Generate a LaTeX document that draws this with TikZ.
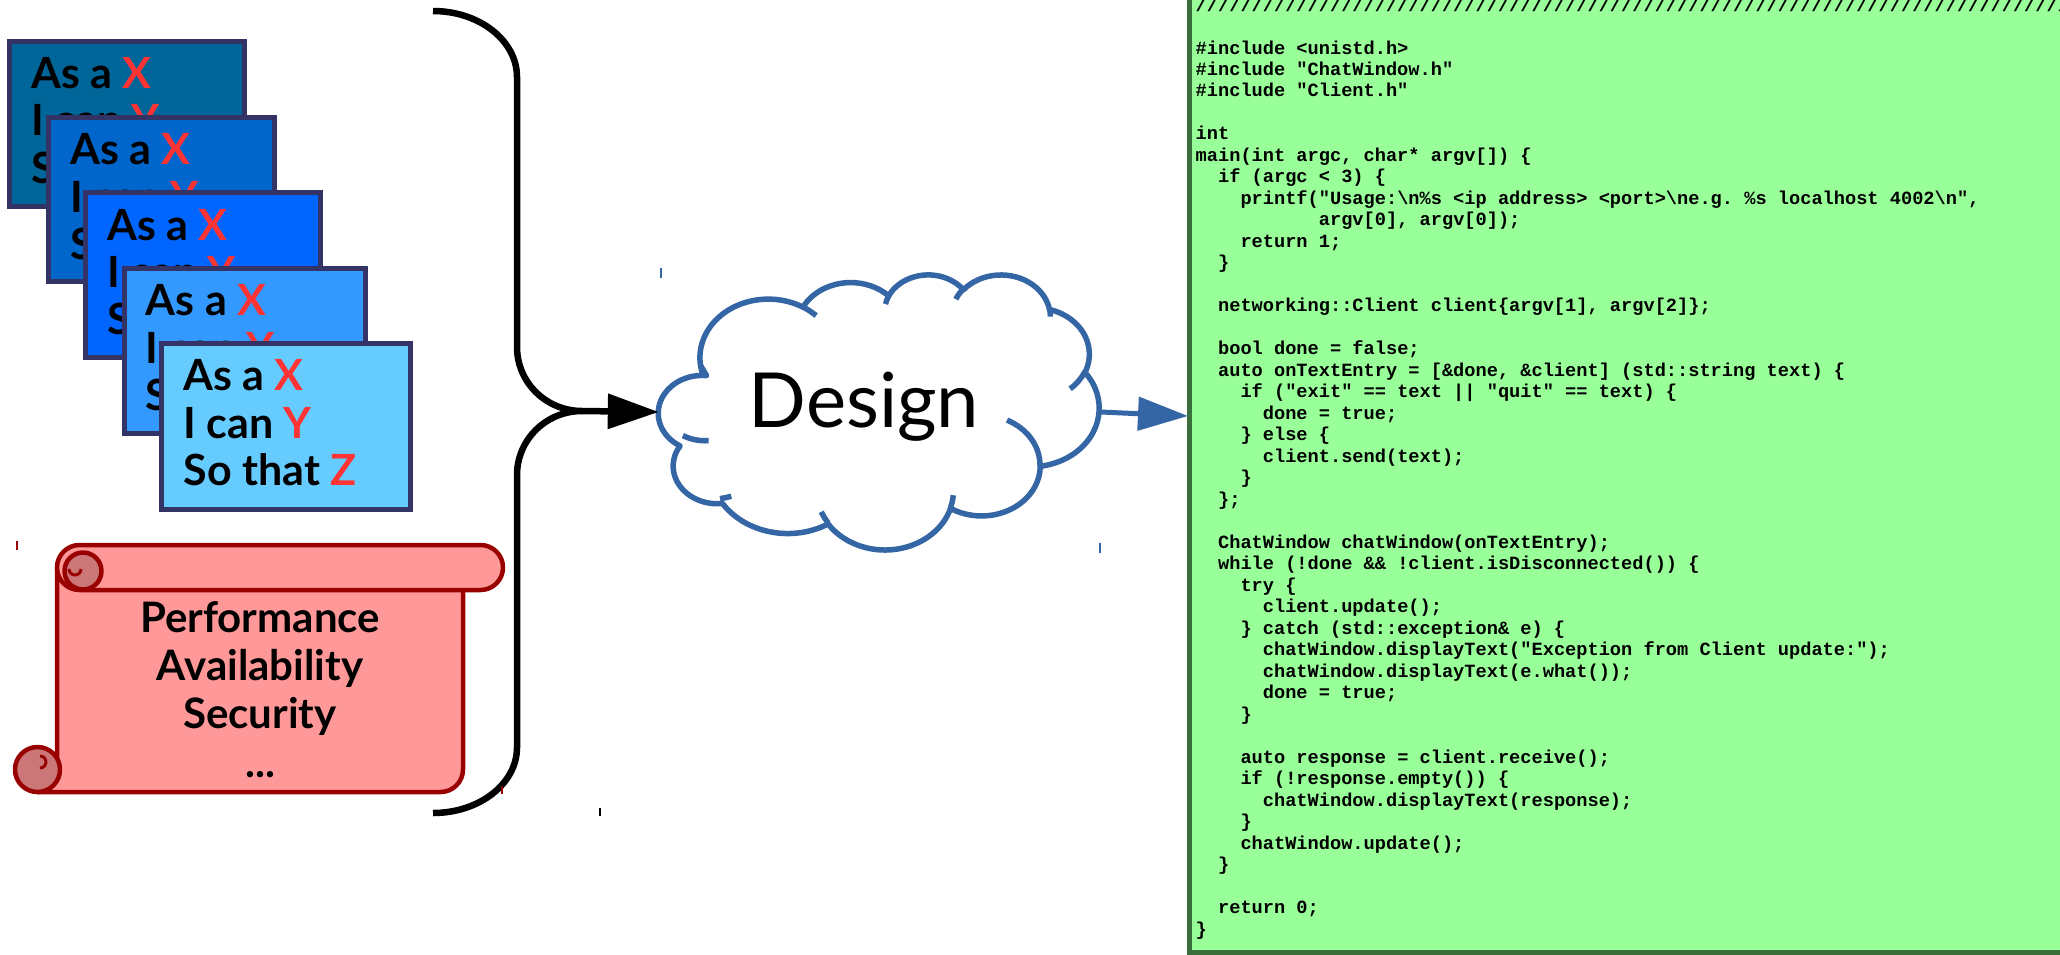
\documentclass[tikz,border=0pt]{standalone}
\usepackage{fontspec}
\setmonofont{Liberation Mono}
\newfontfamily\latofont{Lato}
\usetikzlibrary{arrows.meta}

\definecolor{storyedge}{HTML}{333366}
\definecolor{storyA}{HTML}{006699}
\definecolor{storyB}{HTML}{0066CC}
\definecolor{storyC}{HTML}{0066FF}
\definecolor{storyD}{HTML}{3399FF}
\definecolor{storyE}{HTML}{66CCFF}
\definecolor{storyred}{HTML}{FF3333}
\definecolor{scrollfill}{HTML}{FF9999}
\definecolor{scrolledge}{HTML}{990000}
\definecolor{scrollcurl}{HTML}{CC7777}
\definecolor{cloudblue}{HTML}{3465A4}
\definecolor{codefill}{HTML}{99FF99}
\definecolor{codeedge}{HTML}{3A6E3A}

% Converts a DrawingML-style arc (visual start angle, sweep) on an
% ellipse with radii #2,#3 into parametric start/end angles for TikZ.
\newcommand\cloudang[5]{%
  \pgfmathsetmacro\cldtmpa{atan2((#2)*sin(#4),(#3)*cos(#4))}%
  \pgfmathsetmacro\cldtmpe{(#4)+(#5)}%
  \pgfmathsetmacro\cldtmpb{atan2((#2)*sin(\cldtmpe),(#3)*cos(\cldtmpe))}%
  \pgfmathsetmacro\cldtmpd{\cldtmpb-\cldtmpa}%
  \pgfmathsetmacro\cldtmpd{\cldtmpd-360*round((\cldtmpd-(#5))/360)}%
  \pgfmathsetmacro\cldtmpb{\cldtmpa+\cldtmpd}%
  \expandafter\global\expandafter\let\csname cldS#1\endcsname\cldtmpa
  \expandafter\global\expandafter\let\csname cldE#1\endcsname\cldtmpb
}

% One user-story card: name, left, top, right, bottom, fill colour
\newcommand\storycard[6]{%
  \node[storybox, fill=#6, minimum width={#4-#2-5}, minimum height={#5-#3-5},
        anchor=north west] (#1) at ({#2+2.5},{#3+2.5}) {};
  \node[storytext] (#1-as)  at ({#2+24},{#3+50})    {As a \textcolor{storyred}{X}};
  \node[storytext] (#1-can) at ({#2+24},{#3+97.3})  {I can \textcolor{storyred}{Y}};
  \node[storytext] (#1-so)  at ({#2+24},{#3+144.6}) {So that \textcolor{storyred}{Z}};
}

% One line of source code: line index, indent (characters), text
\newcommand\codeline[3]{%
  \node[codetext] (code#1) at ({1195.5+#2*11.198},{54+#1*21.49}) {#3};
}

\begin{document}
\begin{tikzpicture}[x=1pt, y=-1pt,
  storybox/.style={draw=storyedge, line width=5pt, inner sep=0pt, outer sep=0pt},
  storytext/.style={anchor=base west, inner sep=0pt,
    font=\latofont\bfseries\fontsize{43}{47}\selectfont},
  scrollline/.style={draw=scrolledge, line width=4.5pt, line join=round},
  scrolltext/.style={anchor=base, inner sep=0pt,
    font=\latofont\bfseries\fontsize{42}{48}\selectfont},
  bracestyle/.style={draw=black, line width=6.5pt},
  blackarrow/.style={draw=black, line width=6.5pt, -{Triangle[length=51pt,width=34pt]}},
  cloudline/.style={draw=cloudblue, line width=5.5pt, line join=round},
  bluearrow/.style={draw=cloudblue, line width=5pt, -{Triangle[length=50pt,width=33pt]}},
  codetext/.style={anchor=base west, inner sep=0pt,
    font=\ttfamily\bfseries\fontsize{18.66}{21.49}\selectfont},
  marktick/.style={line width=1.5pt}]

\useasboundingbox (0,0) rectangle (2060,954);
\fill[white] (0,0) rectangle (2060,954);

% ---------- stack of user stories ----------
\storycard{storyA}{7.3}{38.6}{246.7}{209}{storyA}
\storycard{storyB}{46}{114.7}{276.7}{284.4}{storyB}
\storycard{storyC}{83.3}{190}{322.7}{360.2}{storyC}
\storycard{storyD}{121.7}{265.8}{367.7}{436}{storyD}
\storycard{storyE}{159.3}{340.9}{413.3}{512}{storyE}

% ---------- scroll of quality attributes ----------
\draw[scrollline, fill=scrollfill] (57,567.5) -- (57,769.5) -- (37.5,769.5) -- (37.5,792)
  -- (440.5,792) arc[start angle=90, end angle=0, radius=22.5] -- (463,567.5) -- cycle;
\draw[scrollline, fill=scrollcurl] (37.5,769.5) circle[radius=22.5];
\draw[scrollline, line width=3pt] (40,756) arc[start angle=-90, end angle=90, radius=6];
\draw[scrollline, fill=scrollfill] (57,567.5) arc[start angle=180, end angle=270, radius=22.5]
  -- (480.5,545) arc[start angle=-90, end angle=90, radius=22.5]
  -- (79.5,590) arc[start angle=90, end angle=180, radius=22.5] -- cycle;
\draw[scrollline, fill=scrollcurl] (83,571) circle[radius=18.5];
\draw[scrollline, line width=3pt] (69,569) arc[start angle=180, end angle=0, radius=6];
\node[scrolltext] (nfr-perf)  at (260,632) {Performance};
\node[scrolltext] (nfr-avail) at (260,680) {Availability};
\node[scrolltext] (nfr-sec)   at (260,728) {Security};
\node[scrolltext] (nfr-more)  at (260,777) {...};

% ---------- brace gathering both inputs ----------
\draw[bracestyle] (433,11) arc[start angle=-90, end angle=0, x radius=84, y radius=66]
  -- (517,347) arc[start angle=180, end angle=90, x radius=65, y radius=64]
  coordinate (bracetip)
  arc[start angle=-90, end angle=-180, x radius=65, y radius=64]
  -- (517,747.5) arc[start angle=0, end angle=90, x radius=84, y radius=65.5];

% ---------- design cloud ----------
\cloudang{A}{67.53}{91.90}{-190.4875}{123.7805}
\cloudang{B}{53.33}{72.67}{-144.1024}{89.9452}
\cloudang{C}{43.65}{59.45}{-145.8079}{99.7230}
\cloudang{D}{48.57}{65.95}{-130.9861}{117.2417}
\cloudang{E}{53.33}{72.73}{-78.7089}{109.0269}
\cloudang{F}{67.75}{92.20}{-46.2673}{130.2690}
\cloudang{G}{57.85}{78.67}{0.6250}{114.0333}
\cloudang{H}{67.52}{92.15}{22.4516}{115.1726}
\cloudang{I}{77.20}{105.43}{66.2426}{71.6260}
\cloudang{J}{43.60}{59.18}{-274.9421}{135.6207}
\cloudang{K}{43.45}{59.45}{-246.8285}{160.9623}
\cloudang{a}{43.45}{59.45}{86.7420}{26.4295}
\cloudang{b}{43.60}{59.18}{73.6105}{11.4475}
\cloudang{c}{67.52}{92.15}{137.6242}{14.0811}
\cloudang{d}{67.52}{92.15}{6.4533}{15.9984}
\cloudang{e}{57.85}{78.67}{-70.2924}{70.9174}
\cloudang{f}{53.33}{72.73}{30.3180}{27.7515}
\cloudang{g}{48.57}{65.95}{-13.7443}{14.8589}
\cloudang{h}{48.57}{65.95}{-149.1815}{18.1954}
\cloudang{i}{43.65}{59.45}{-163.4943}{17.6864}
\cloudang{j}{67.53}{91.90}{-66.7070}{12.3194}
\cloudang{k}{67.53}{91.90}{157.6544}{11.8582}

\node[minimum width=442, minimum height=280, inner sep=0pt] (design) at (880,412) {};
\begin{scope}[shift={(661,274)}, x=1.01389pt, y=-0.63657pt]
  \draw[cloudline, fill=white] (39.00,143.70)
    arc[start angle=\cldSA, end angle=\cldEA, x radius=67.53, y radius=91.90]
    arc[start angle=\cldSB, end angle=\cldEB, x radius=53.33, y radius=72.67]
    arc[start angle=\cldSC, end angle=\cldEC, x radius=43.65, y radius=59.45]
    arc[start angle=\cldSD, end angle=\cldED, x radius=48.57, y radius=65.95]
    arc[start angle=\cldSE, end angle=\cldEE, x radius=53.33, y radius=72.73]
    arc[start angle=\cldSF, end angle=\cldEF, x radius=67.75, y radius=92.20]
    arc[start angle=\cldSG, end angle=\cldEG, x radius=57.85, y radius=78.67]
    arc[start angle=\cldSH, end angle=\cldEH, x radius=67.52, y radius=92.15]
    arc[start angle=\cldSI, end angle=\cldEI, x radius=77.20, y radius=105.43]
    arc[start angle=\cldSJ, end angle=\cldEJ, x radius=43.60, y radius=59.18]
    arc[start angle=\cldSK, end angle=\cldEK, x radius=43.45, y radius=59.45]
    -- cycle;
  \draw[cloudline]
    (46.93,261.77) arc[start angle=\cldSa, end angle=\cldEa, x radius=43.45, y radius=59.45]
    (69.28,348.99) arc[start angle=\cldSb, end angle=\cldEb, x radius=43.60, y radius=59.18]
    (164.78,390.90) arc[start angle=\cldSc, end angle=\cldEc, x radius=67.52, y radius=92.15]
    (288.27,347.51) arc[start angle=\cldSd, end angle=\cldEd, x radius=67.52, y radius=92.15]
    (341.29,229.54) arc[start angle=\cldSe, end angle=\cldEe, x radius=57.85, y radius=78.67]
    (417.98,153.54) arc[start angle=\cldSf, end angle=\cldEf, x radius=53.33, y radius=72.73]
    (383.24,54.26) arc[start angle=\cldSg, end angle=\cldEg, x radius=48.57, y radius=65.95]
    (290.78,39.52) arc[start angle=\cldSh, end angle=\cldEh, x radius=48.57, y radius=65.95]
    (221.41,47.20) arc[start angle=\cldSi, end angle=\cldEi, x radius=43.65, y radius=59.45]
    (140.00,51.92) arc[start angle=\cldSj, end angle=\cldEj, x radius=67.53, y radius=91.90]
    (41.27,157.89) arc[start angle=\cldSk, end angle=\cldEk, x radius=67.53, y radius=91.90];
\end{scope}
\node[anchor=base, inner sep=0pt, font=\latofont\fontsize{76}{80}\selectfont]
  (designlabel) at (864,427) {Design};

% ---------- source code panel ----------
\draw[line width=5pt, draw=codeedge, fill=codefill] (1189.5,-20) rectangle (2090,952);
\coordinate (codein) at (1188,416);

\codeline{-2}{0}{////////////////////////////////////////////////////////////////////////////////}
\codeline{0}{0}{\#include <unistd.h>}
\codeline{1}{0}{\#include "ChatWindow.h"}
\codeline{2}{0}{\#include "Client.h"}
\codeline{4}{0}{int}
\codeline{5}{0}{main(int argc, char* argv[]) \{}
\codeline{6}{2}{if (argc < 3) \{}
\codeline{7}{4}{printf("Usage:\textbackslash{}n\%s <ip address> <port>\textbackslash{}ne.g. \%s localhost 4002\textbackslash{}n",}
\codeline{8}{11}{argv[0], argv[0]);}
\codeline{9}{4}{return 1;}
\codeline{10}{2}{\}}
\codeline{12}{2}{networking::Client client\{argv[1], argv[2]\};}
\codeline{14}{2}{bool done = false;}
\codeline{15}{2}{auto onTextEntry = [\&done, \&client] (std::string text) \{}
\codeline{16}{4}{if ("exit" == text || "quit" == text) \{}
\codeline{17}{6}{done = true;}
\codeline{18}{4}{\} else \{}
\codeline{19}{6}{client.send(text);}
\codeline{20}{4}{\}}
\codeline{21}{2}{\};}
\codeline{23}{2}{ChatWindow chatWindow(onTextEntry);}
\codeline{24}{2}{while (!done \&\& !client.isDisconnected()) \{}
\codeline{25}{4}{try \{}
\codeline{26}{6}{client.update();}
\codeline{27}{4}{\} catch (std::exception\& e) \{}
\codeline{28}{6}{chatWindow.displayText("Exception from Client update:");}
\codeline{29}{6}{chatWindow.displayText(e.what());}
\codeline{30}{6}{done = true;}
\codeline{31}{4}{\}}
\codeline{33}{4}{auto response = client.receive();}
\codeline{34}{4}{if (!response.empty()) \{}
\codeline{35}{6}{chatWindow.displayText(response);}
\codeline{36}{4}{\}}
\codeline{37}{4}{chatWindow.update();}
\codeline{38}{2}{\}}
\codeline{40}{2}{return 0;}
\codeline{41}{0}{\}}

% ---------- connectors ----------
\draw[blackarrow] (bracetip) -- (design.west);
\draw[bluearrow] (design.east) -- (codein);

% ---------- small frame marks ----------
\draw[marktick, cloudblue] (661,268) -- (661,278);
\draw[marktick, cloudblue] (1100,543) -- (1100,553);
\draw[marktick, scrolledge] (17,541) -- (17,550);
\draw[marktick, scrolledge] (502,786) -- (502,794);
\draw[marktick, black] (600,808) -- (600,816);
\end{tikzpicture}
\end{document}
